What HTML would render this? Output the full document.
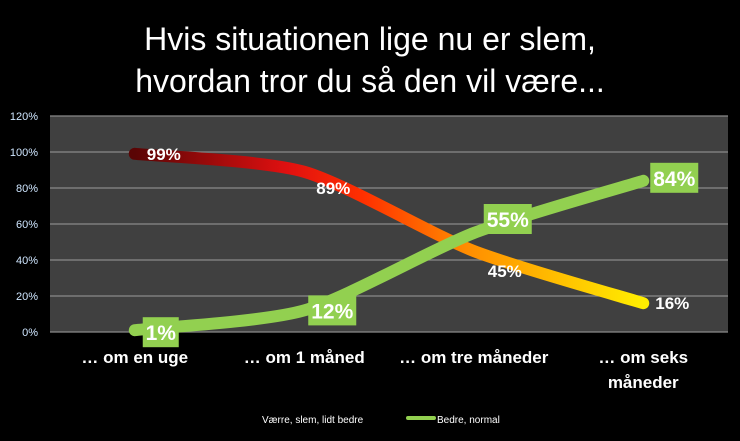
<!DOCTYPE html>
<html><head><meta charset="utf-8"><style>
body{margin:0;background:#000;width:740px;height:436px;overflow:hidden;font-family:"Liberation Sans",sans-serif}
</style></head><body>
<svg id="chart" width="740" height="436" xmlns="http://www.w3.org/2000/svg">
<defs>
<linearGradient id="redGrad" gradientUnits="userSpaceOnUse" x1="135" y1="0" x2="643" y2="0">
<stop offset="0" stop-color="#5a0505"/><stop offset="0.3" stop-color="#e01010"/><stop offset="0.45" stop-color="#ff3000"/><stop offset="0.65" stop-color="#ff8c00"/><stop offset="1" stop-color="#ffee00"/>
</linearGradient>
</defs>
<rect width="740" height="436" fill="#000"/>
<text x="370" y="50" fill="#fff" font-size="32" text-anchor="middle">Hvis situationen lige nu er slem,</text>
<text x="370" y="92" fill="#fff" font-size="32" text-anchor="middle">hvordan tror du så den vil være...</text>
<rect x="50" y="116" width="678" height="216" fill="#404040"/>
<g id="grid"></g><g id="lines"></g><g id="labels"></g>
<g>
<line x1="234" y1="419" x2="260" y2="419" stroke="url(#legGrad)" stroke-width="4" stroke-linecap="round"/>
<linearGradient id="legGrad"><stop offset="0" stop-color="#e01010"/><stop offset="1" stop-color="#ffcc00"/></linearGradient>
<line x1="234" y1="419" x2="260" y2="419" stroke="url(#legGrad)" stroke-width="4" stroke-linecap="round"/>
<text x="262" y="423" fill="#fff" font-size="10">Værre, slem, lidt bedre</text>
<line x1="408" y1="418" x2="434" y2="418" stroke="#92d050" stroke-width="4" stroke-linecap="round"/>
<text x="437" y="423" fill="#fff" font-size="10">Bedre, normal</text>
</g>
</svg>
<script>
const categories=["… om en uge","… om 1 måned","… om tre måneder","… om seks måneder"];
const redValues=[99,89,45,16];
const greenValues=[1,12,55,84];
const yTicks=[0,20,40,60,80,100,120];
const NS="http://www.w3.org/2000/svg";
const x0=50,pw=678,y0=332,ph=216;
const xs=i=>x0+pw/categories.length*(i+0.5);
const ys=v=>y0-v/120*ph;
function mk(t,a,p){const e=document.createElementNS(NS,t);for(const k in a)e.setAttribute(k,a[k]);p.appendChild(e);return e;}
const grid=document.getElementById('grid'),lines=document.getElementById('lines'),labels=document.getElementById('labels');
yTicks.forEach(v=>{
 const l=mk('line',{x1:x0,x2:x0+pw,y1:ys(v),y2:ys(v),stroke:'#8a8a8a','stroke-width':1.2},grid);
 
 
 const t=mk('text',{x:38,y:ys(v)+4,fill:'#cfe6ff','font-size':11,'text-anchor':'end'},grid);
 t.textContent=v+'%';
 
 
});
categories.forEach((c,i)=>{
 const t=mk('text',{x:xs(i),y:363,fill:'#fff','font-size':17,'font-weight':'bold','text-anchor':'middle'},labels);
 
 
 if(c.length>16){const w=c.split(' ');t.textContent=w.slice(0,3).join(' ');const t2=mk('text',{x:xs(i),y:388,fill:'#fff','font-size':17,'font-weight':'bold','text-anchor':'middle'},labels);t2.textContent=w.slice(3).join(' ');
 
 }
 else t.textContent=c;
});
function pathD(vals){const p=vals.map((v,i)=>[xs(i),ys(v)]);let d='M'+p[0];for(let i=0;i<p.length-1;i++){const a=p[i-1]||p[i],b=p[i],c=p[i+1],e=p[i+2]||c;const k=0.12;d+=' C'+(b[0]+(c[0]-a[0])*k)+','+(b[1]+(c[1]-a[1])*k)+' '+(c[0]-(e[0]-b[0])*k)+','+(c[1]-(e[1]-b[1])*k)+' '+c;}return d;}
const rp=mk('path',{d:pathD(redValues),fill:'none',stroke:'url(#redGrad)','stroke-width':12,'stroke-linecap':'round'},lines);


const gp=mk('path',{d:pathD(greenValues),fill:'none',stroke:'#92d050','stroke-width':12,'stroke-linecap':'round'},lines);


const redOff=[[12,6],[12,22],[14,26],[12,6]];
redValues.forEach((v,i)=>{
 const t=mk('text',{x:xs(i)+redOff[i][0],y:ys(v)+redOff[i][1],fill:'#fff','font-size':17,'font-weight':'bold'},labels);
 t.textContent=v+'%';
 
 
});
const grOff=[[8,-13],[4,-15],[10,-29],[7,-18]];
greenValues.forEach((v,i)=>{
 const s=(v+'%');const w=s.length*12+12;
 const bx=xs(i)+grOff[i][0],by=ys(v)+grOff[i][1];
 const r=mk('rect',{x:bx,y:by,width:w,height:30,fill:'#92d050'},labels);
 
 
 const t=mk('text',{x:bx+w/2,y:by+23,fill:'#fff','font-size':21,'font-weight':'bold','text-anchor':'middle'},labels);
 t.textContent=s;
 
 
});
</script>
</body></html>
